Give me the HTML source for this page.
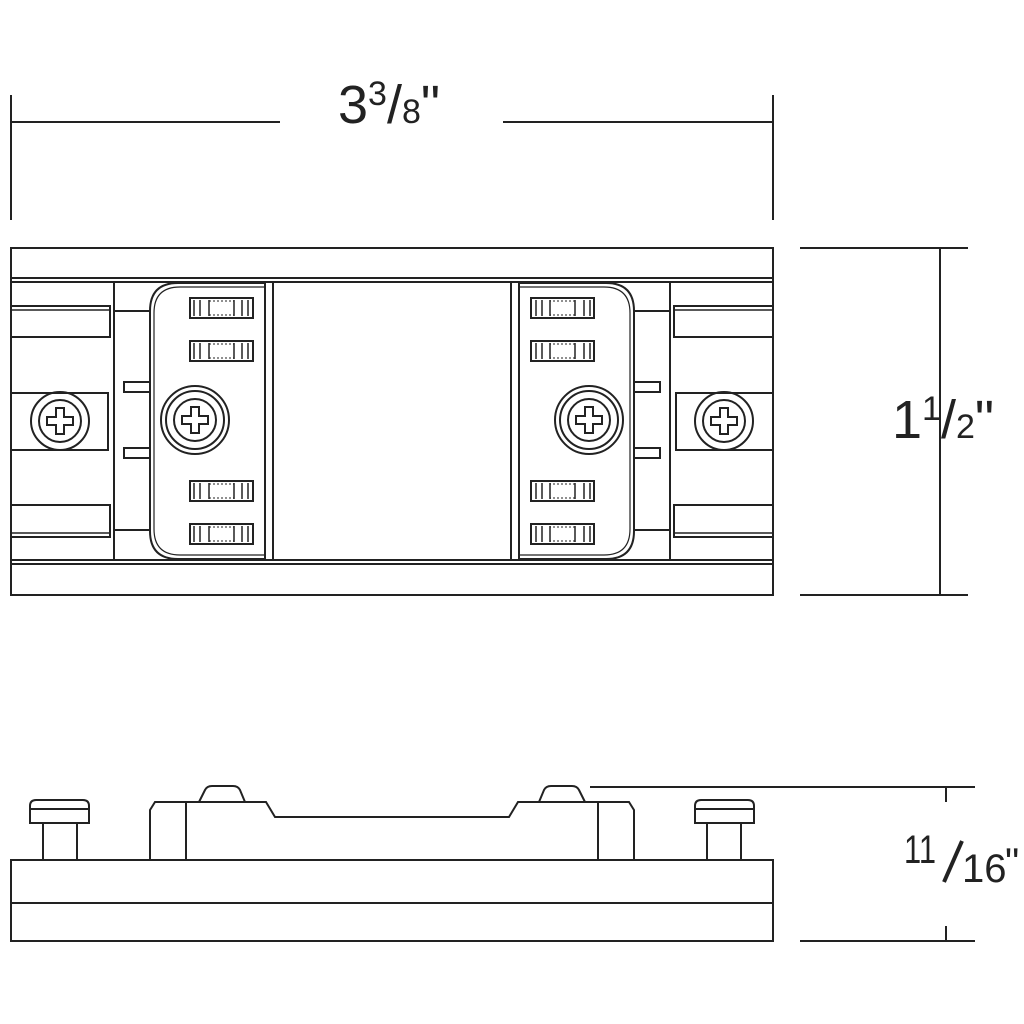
<!DOCTYPE html>
<html><head><style>
html,body{margin:0;padding:0;background:#fff;}
svg{display:block;}
text{font-family:"Liberation Sans",sans-serif;fill:#222;}
</style></head><body>
<svg width="1024" height="1024" viewBox="0 0 1024 1024" xmlns="http://www.w3.org/2000/svg">
<defs>
<g id="clip">
  <rect x="0" y="0" width="63" height="20" fill="none" stroke="#222" stroke-width="2"/>
  <line x1="4" y1="2" x2="4" y2="18" stroke="#222" stroke-width="1.5"/>
  <line x1="10" y1="2" x2="10" y2="18" stroke="#222" stroke-width="1.5"/>
  <line x1="19" y1="2" x2="19" y2="18" stroke="#222" stroke-width="1.5"/>
  <line x1="44" y1="2" x2="44" y2="18" stroke="#222" stroke-width="1.5"/>
  <line x1="52" y1="2" x2="52" y2="18" stroke="#222" stroke-width="1.5"/>
  <line x1="58" y1="2" x2="58" y2="18" stroke="#222" stroke-width="1.5"/>
  <line x1="19" y1="3" x2="44" y2="3" stroke="#222" stroke-width="1" stroke-dasharray="2 2"/>
  <line x1="19" y1="17" x2="44" y2="17" stroke="#222" stroke-width="1" stroke-dasharray="2 2"/>
</g>
<g id="cross">
  <path d="M-4,-13 H4 V-4 H13 V4 H4 V13 H-4 V4 H-13 V-4 H-4 Z" fill="none" stroke="#222" stroke-width="2"/>
</g>
<g id="half" fill="none" stroke="#222" stroke-width="2">
  <line x1="114" y1="282" x2="114" y2="560"/>
  <rect x="11" y="306" width="99" height="31"/>
  <line x1="11" y1="310" x2="110" y2="310" stroke-width="1.5"/>
  <rect x="11" y="505" width="99" height="32"/>
  <line x1="11" y1="533" x2="110" y2="533" stroke-width="1.5"/>
  <line x1="114" y1="311" x2="150" y2="311"/>
  <line x1="114" y1="530" x2="150" y2="530"/>
  <path d="M11,393 H108 V450 H11"/>
  <circle cx="60" cy="421" r="29"/>
  <circle cx="60" cy="421" r="21"/>
  <use href="#cross" x="60" y="421"/>
  <rect x="124" y="382" width="26" height="10"/>
  <rect x="124" y="448" width="26" height="10"/>
  <path d="M265,283 H178 Q150,283 150,311 V531 Q150,559 178,559 H265"/>
  <path d="M264,287 H180 Q154,287 154,313 V529 Q154,555 180,555 H264" stroke-width="1.2"/>
  <line x1="265" y1="282" x2="265" y2="560"/>
  <line x1="273" y1="282" x2="273" y2="560"/>
  <circle cx="195" cy="420" r="34"/>
  <circle cx="195" cy="420" r="29"/>
  <circle cx="195" cy="420" r="21"/>
  <use href="#cross" x="195" y="420"/>
  <use href="#clip" x="190" y="298"/>
  <use href="#clip" x="190" y="341"/>
  <use href="#clip" x="190" y="481"/>
  <use href="#clip" x="190" y="524"/>
</g>
<g id="sidehalf" fill="none" stroke="#222" stroke-width="2">
  <path d="M43,860 V823 M77,823 V860"/>
  <path d="M30,823 V806 Q30,800 36,800 H83 Q89,800 89,806 V823 Z"/>
  <line x1="30" y1="809" x2="89" y2="809"/>
  <path d="M150,860 V810 L155,802 H266 L275,817 H392"/>
  <line x1="186" y1="802" x2="186" y2="860"/>
  <path d="M199,802 L205,790 Q207,786 212,786 H233 Q238,786 240,790 L245,802"/>
</g>
</defs>

<g stroke="#222" stroke-width="2" fill="none">
  <line x1="11" y1="95" x2="11" y2="220"/>
  <line x1="773" y1="95" x2="773" y2="220"/>
  <line x1="11" y1="122" x2="280" y2="122"/>
  <line x1="503" y1="122" x2="773" y2="122"/>
  <line x1="800" y1="248" x2="968" y2="248"/>
  <line x1="800" y1="595" x2="968" y2="595"/>
  <line x1="940" y1="248" x2="940" y2="595"/>
  <line x1="590" y1="787" x2="975" y2="787"/>
  <line x1="800" y1="941" x2="975" y2="941"/>
  <line x1="946" y1="787" x2="946" y2="802"/>
  <line x1="946" y1="926" x2="946" y2="941"/>
</g>
<text x="338" y="123" font-size="54">3<tspan font-size="34" dy="-18">3</tspan><tspan font-size="54" dy="18">/</tspan><tspan font-size="34" dy="0">8</tspan><tspan font-size="54">"</tspan></text>
<text x="892" y="438" font-size="54">1<tspan font-size="34" dy="-18">1</tspan><tspan font-size="54" dy="18">/</tspan><tspan font-size="34">2</tspan><tspan font-size="54">"</tspan></text>
<text x="904" y="863" font-size="40" textLength="32" lengthAdjust="spacingAndGlyphs">11</text>
<line x1="962" y1="841" x2="944" y2="882" stroke="#222" stroke-width="4"/>
<text x="962" y="882" font-size="40">16</text>
<text x="1005" y="876" font-size="40">"</text>

<g fill="none" stroke="#222" stroke-width="2">
  <rect x="11" y="248" width="762" height="347"/>
  <line x1="11" y1="278" x2="773" y2="278"/>
  <line x1="11" y1="282" x2="773" y2="282"/>
  <line x1="11" y1="560" x2="773" y2="560"/>
  <line x1="11" y1="564" x2="773" y2="564"/>
</g>
<use href="#half"/>
<use href="#half" transform="translate(784,0) scale(-1,1)"/>

<g fill="none" stroke="#222" stroke-width="2">
  <rect x="11" y="860" width="762" height="81"/>
  <line x1="11" y1="903" x2="773" y2="903"/>
</g>
<use href="#sidehalf"/>
<use href="#sidehalf" transform="translate(784,0) scale(-1,1)"/>
</svg>
</body></html>
